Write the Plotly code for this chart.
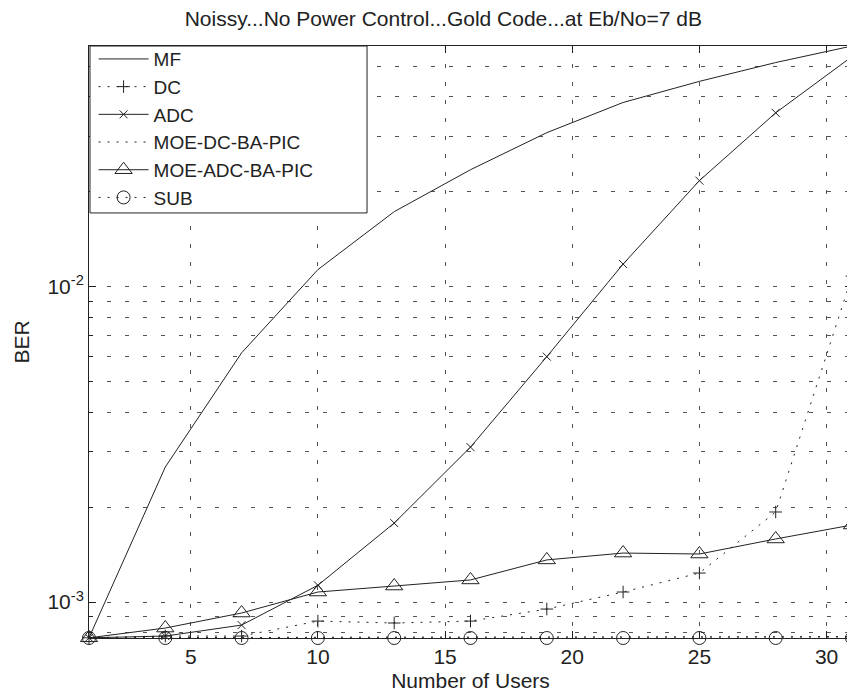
import math
import plotly.graph_objects as go

users = [1, 4, 7, 10, 13, 16, 19, 22, 25, 28, 31]

ber_mf = [7.7e-4, 2.68e-3, 6.17e-3, 1.133e-2, 1.73e-2, 2.35e-2, 3.08e-2, 3.84e-2, 4.48e-2, 5.14e-2, 5.8e-2]
ber_dc = [7.7e-4, 7.8e-4, 7.8e-4, 8.7e-4, 8.58e-4, 8.7e-4, 9.5e-4, 1.076e-3, 1.236e-3, 1.93e-3, 1.08e-2]
ber_adc = [7.7e-4, 7.8e-4, 8.45e-4, 1.13e-3, 1.78e-3, 3.1e-3, 6.0e-3, 1.18e-2, 2.17e-2, 3.56e-2, 5.37e-2]
ber_moe_dc = [7.7e-4, 7.72e-4, 7.73e-4, 7.73e-4, 7.74e-4, 7.74e-4, 7.75e-4, 7.75e-4, 7.76e-4, 7.76e-4, 7.77e-4]
ber_moe_adc = [7.7e-4, 8.27e-4, 9.23e-4, 1.076e-3, 1.124e-3, 1.175e-3, 1.36e-3, 1.43e-3, 1.42e-3, 1.585e-3, 1.755e-3]
ber_sub = [7.69e-4] * 11

x_ticks = [5, 10, 15, 20, 25, 30]
y_major = [1e-3, 1e-2]
y_major_text = ["10<sup>-3</sup>", "10<sup>-2</sup>"]
y_minor = [8e-4, 9e-4, 2e-3, 3e-3, 4e-3, 5e-3, 6e-3, 7e-3, 8e-3, 9e-3, 2e-2, 3e-2, 4e-2, 5e-2]

title_text = "Noissy...No Power Control...Gold Code...at Eb/No=7 dB"

INK = "#222222"
GRID = "#555555"
FONT = "Liberation Sans, Arial, sans-serif"

fig = go.Figure()

def add(name, y, dash, symbol=None, msize=10):
    kw = {}
    if symbol:
        kw["marker"] = dict(symbol=symbol, size=msize, color=INK,
                            line=dict(color=INK, width=1))
    fig.add_trace(go.Scatter(
        x=users, y=y, name=name,
        mode="lines+markers" if symbol else "lines",
        line=dict(color=INK, width=1, dash=dash),
        cliponaxis=False, **kw,
    ))

dot = "2px,7px"
add("MF", ber_mf, "solid")
add("DC", ber_dc, dot, "cross-thin", 9)
add("ADC", ber_adc, "solid", "x-thin", 8)
add("MOE-DC-BA-PIC", ber_moe_dc, dot)
add("MOE-ADC-BA-PIC", ber_moe_adc, "solid", "triangle-up-open", 15)
add("SUB", ber_sub, dot, "circle-open", 13)

grid_dash = "4px,14px"
axis_common = dict(
    ticks="inside", ticklen=7, tickcolor=INK,
    showline=True, linecolor=INK, linewidth=1, mirror="ticks",
    showgrid=True, gridcolor=GRID, gridwidth=1, griddash=grid_dash,
    zeroline=False,
    tickfont=dict(family=FONT, size=21, color=INK),
)

fig.update_layout(
    width=847, height=692,
    paper_bgcolor="white", plot_bgcolor="white",
    margin=dict(l=81, r=3, t=38, b=62),
    font=dict(family=FONT, size=21, color=INK),
    title=dict(text=title_text, x=0.514, xanchor="center",
               y=1 - 3 / 692, yanchor="top",
               font=dict(family=FONT, size=21, color=INK)),
    showlegend=True,
    legend=dict(x=0.006, y=1.01, xanchor="left", yanchor="top",
                bgcolor="rgba(0,0,0,0)", borderwidth=0,
                font=dict(family=FONT, size=19, color=INK),
                itemwidth=50, tracegroupgap=0),
    shapes=[dict(type="rect", xref="paper", yref="paper",
                 x0=0.0013, x1=0.3644, y0=0.718, y1=1.0,
                 line=dict(color=INK, width=1), fillcolor="white", layer="above")],
    xaxis=dict(
        range=[1, 31], tickmode="array", tickvals=x_ticks,
        title=dict(text="Number of Users", font=dict(family=FONT, size=21, color=INK), standoff=6),
        **axis_common,
    ),
    yaxis=dict(
        type="log", range=[math.log10(7.69e-4), math.log10(5.8e-2)],
        tickmode="array", tickvals=y_major, ticktext=y_major_text,
        minor=dict(tickmode="array", tickvals=y_minor, ticks="inside", ticklen=4,
                   tickcolor=INK, showgrid=True, gridcolor=GRID, gridwidth=1,
                   griddash=grid_dash),
        title=dict(text="BER", font=dict(family=FONT, size=21, color=INK), standoff=12),
        **axis_common,
    ),
)

fig.write_html("out.html")
